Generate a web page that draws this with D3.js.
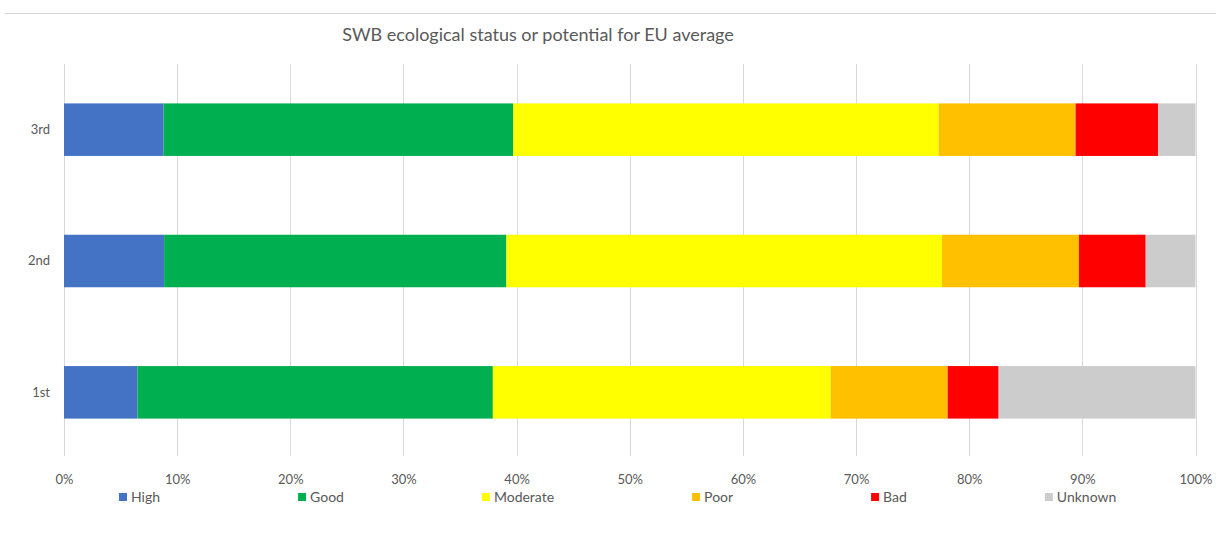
<!DOCTYPE html>
<html><head><meta charset="utf-8">
<script src="https://cdn.jsdelivr.net/npm/d3@7"></script>
<style>body{margin:0;background:#fff;} svg{display:block;font-family:Lato, "Open Sans", sans-serif;}</style>
</head><body>
<svg id="chart" width="1216" height="541"></svg>
<script>
const categories = ["3rd", "2nd", "1st"];
const seriesNames = ["High", "Good", "Moderate", "Poor", "Bad", "Unknown"];
const seriesColors = ["#4472C4", "#00B050", "#FFFF00", "#FFC000", "#FF0000", "#CCCCCC"];
const high = [8.8, 8.85, 6.5];
const good = [30.9, 30.25, 31.4];
const moderate = [37.6, 38.5, 29.85];
const poor = [12.1, 12.1, 10.35];
const bad = [7.3, 5.9, 4.5];
const unknown = [3.3, 4.4, 17.4];
const tickValues = [0,10,20,30,40,50,60,70,80,90,100];
const title = "SWB ecological status or potential for EU average";

const svg = d3.select("#chart");
const rows = categories.map((c,i)=>({cat:c, High:high[i], Good:good[i], Moderate:moderate[i], Poor:poor[i], Bad:bad[i], Unknown:unknown[i]}));
const stack = d3.stack().keys(seriesNames)(rows);

const x = d3.scaleLinear().domain([0,100]).range([64,1195.5]);
const y = d3.scaleBand().domain(categories).range([64,458]).paddingInner(0.6).paddingOuter(0.3);
const color = d3.scaleOrdinal().domain(seriesNames).range(seriesColors);

// top border line
svg.append("line").attr("x1",5).attr("x2",1216).attr("y1",13.5).attr("y2",13.5).attr("stroke","#d4d4d4").attr("stroke-width",1.2);

// title
svg.append("text").attr("x",538).attr("y",41).attr("text-anchor","middle")
  .attr("font-size",18).attr("fill","#595959").text(title);

// gridlines
svg.append("g").selectAll("line").data(tickValues).join("line")
  .attr("x1",d=>Math.round(x(d))+0.5).attr("x2",d=>Math.round(x(d))+0.5)
  .attr("y1",64).attr("y2",456).attr("stroke","#d9d9d9").attr("stroke-width",1);

// bars
svg.append("g").selectAll("g").data(stack).join("g").attr("fill",d=>color(d.key))
  .selectAll("rect").data(d=>d).join("rect")
  .attr("x",d=>x(d[0])).attr("width",d=>x(d[1])-x(d[0]))
  .attr("y",d=>y(d.data.cat)).attr("height",y.bandwidth());

// x axis
const xAxis = d3.axisBottom(x).tickValues(tickValues).tickFormat(d=>d+"%").tickSize(0).tickPadding(0);
const gx = svg.append("g").attr("transform","translate(0,475)").call(xAxis);
gx.select(".domain").remove();
gx.selectAll("text").attr("font-size",13).attr("fill","#595959").attr("font-family","Lato, sans-serif");

// y axis
const yAxis = d3.axisLeft(y).tickSize(0).tickPadding(0);
const gy = svg.append("g").attr("transform","translate(50,0)").call(yAxis);
gy.select(".domain").remove();
gy.selectAll("text").attr("font-size",13).attr("fill","#595959").attr("font-family","Lato, sans-serif");

// legend
const legend = svg.append("g");
let lx = 119;
seriesNames.forEach((name,i)=>{
  const g = legend.append("g").attr("transform",`translate(${lx},0)`);
  g.append("rect").attr("x",0).attr("y",493).attr("width",8).attr("height",8).attr("fill",color(name));
  const t = g.append("text").attr("x",12).attr("y",502).attr("font-size",14).attr("fill","#595959").text(name);
  const w = t.node().getComputedTextLength();
  lx += 12 + w + 138;
});
</script>
</body></html>
